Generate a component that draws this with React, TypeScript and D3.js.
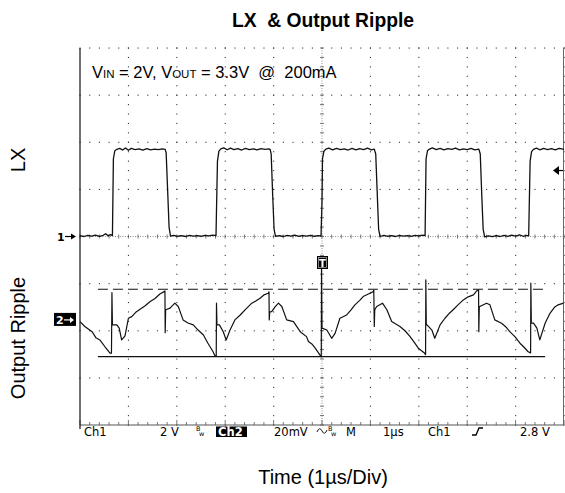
import React from "react";
import * as d3 from "d3";

// ---- Data (time in µs, trigger at 0) ----
const timeDomain: [number, number] = [-5, 5];
const hDivs = 10;
const vDivs = 8;

// LX (Ch1, 2 V/div) trace points [µs, V]
const lxTrace: [number, number][] = [
  [-5.0, 0.04], [-4.92, 0.0], [-4.84, 0.05], [-4.76, 0.02], [-4.68, 0.06], [-4.6, 0.01], [-4.52, 0.05], [-4.47, 0.12], [-4.42, 0.03], [-4.37, 0.08], [-4.33, 0.04],
  [-4.31, 3.3], [-4.28, 3.64], [-4.24, 3.7],
  [-4.18, 3.74], [-4.12, 3.67], [-4.06, 3.76], [-4.0, 3.66], [-3.94, 3.74], [-3.86, 3.69], [-3.78, 3.72], [-3.7, 3.67], [-3.62, 3.73], [-3.54, 3.68], [-3.46, 3.71], [-3.38, 3.69], [-3.3, 3.72], [-3.24, 3.7],
  [-3.22, 3.55], [-3.19, 2.0], [-3.16, 0.4], [-3.13, 0.02],
  [-3.06, 0.05], [-2.98, 0.01], [-2.9, 0.04], [-2.82, 0.0], [-2.74, 0.05], [-2.66, 0.02], [-2.58, 0.04], [-2.5, 0.01], [-2.42, 0.05], [-2.34, 0.03], [-2.26, 0.06], [-2.19, 0.04],
  [-2.16, 3.2], [-2.13, 3.62], [-2.09, 3.72],
  [-2.03, 3.76], [-1.96, 3.68], [-1.89, 3.75], [-1.82, 3.69], [-1.74, 3.73], [-1.66, 3.67], [-1.58, 3.74], [-1.5, 3.69], [-1.42, 3.72], [-1.34, 3.68], [-1.26, 3.73], [-1.18, 3.7], [-1.1, 3.72], [-1.07, 3.69],
  [-1.05, 3.5], [-1.02, 1.8], [-0.99, 0.3], [-0.96, 0.01],
  [-0.88, 0.04], [-0.8, 0.0], [-0.72, 0.05], [-0.64, 0.02], [-0.56, 0.06], [-0.48, 0.01], [-0.4, 0.04], [-0.32, 0.02], [-0.24, 0.05], [-0.16, 0.01], [-0.08, 0.04], [-0.02, 0.03],
  [0.0, 1.5], [0.01, 3.3], [0.04, 3.62], [0.08, 3.71],
  [0.14, 3.75], [0.22, 3.68], [0.3, 3.74], [0.38, 3.69], [0.46, 3.72], [0.54, 3.67], [0.62, 3.74], [0.7, 3.68], [0.78, 3.73], [0.86, 3.69], [0.94, 3.75], [1.02, 3.68], [1.08, 3.71],
  [1.11, 3.5], [1.14, 1.9], [1.17, 0.3], [1.2, 0.0],
  [1.28, 0.05], [1.36, 0.01], [1.44, 0.04], [1.52, 0.0], [1.6, 0.05], [1.68, 0.02], [1.76, 0.04], [1.84, 0.01], [1.92, 0.05], [2.0, 0.03], [2.08, 0.06], [2.13, 0.04],
  [2.15, 3.3], [2.18, 3.64], [2.22, 3.71],
  [2.28, 3.76], [2.36, 3.69], [2.44, 3.74], [2.52, 3.68], [2.6, 3.73], [2.68, 3.7], [2.76, 3.75], [2.84, 3.68], [2.92, 3.72], [3.0, 3.69], [3.08, 3.74], [3.16, 3.68], [3.24, 3.71],
  [3.27, 3.5], [3.3, 1.8], [3.33, 0.3], [3.36, -0.02],
  [3.44, 0.03], [3.52, -0.01], [3.6, 0.04], [3.68, 0.0], [3.76, 0.05], [3.84, 0.01], [3.92, 0.06], [4.0, 0.02], [4.08, 0.07], [4.16, 0.01], [4.22, 0.05], [4.27, 0.03],
  [4.3, 3.2], [4.33, 3.6], [4.37, 3.7],
  [4.43, 3.75], [4.5, 3.68], [4.58, 3.74], [4.66, 3.69], [4.74, 3.73], [4.82, 3.68], [4.9, 3.74], [5.0, 3.7],
];

// Output ripple (Ch2, 20 mV/div, AC) trace points [µs, mV]
const rippleTrace: [number, number][] = [
  [-5.0, -0.7], [-4.9, -2.8], [-4.75, -5.0], [-4.67, -7.6], [-4.59, -8.5], [-4.48, -11.5], [-4.38, -14.1], [-4.35, -14.1],
  [-4.34, 11.6], [-4.33, -2.1], [-4.24, -2.1], [-4.19, -3.5], [-4.14, -8.5], [-4.07, -6.8], [-4.0, 0.7], [-3.93, 1.4], [-3.84, 3.4], [-3.76, 4.5], [-3.66, 5.9], [-3.55, 7.8], [-3.45, 9.1], [-3.35, 11.0], [-3.26, 12.0], [-3.245, 12.3],
  [-3.24, -5.4], [-3.23, 4.3], [-3.14, 5.0], [-3.04, 7.1], [-2.97, 5.7], [-2.87, 0.0], [-2.77, -1.3], [-2.66, -2.1], [-2.56, -4.3], [-2.45, -6.4], [-2.36, -9.8], [-2.25, -13.5], [-2.21, -15.3], [-2.185, -15.3],
  [-2.18, 7.1], [-2.17, -2.1], [-2.12, -2.1], [-2.04, -5.0], [-1.98, -8.5], [-1.9, -4.3], [-1.8, 0.0], [-1.69, 2.1], [-1.57, 4.7], [-1.45, 7.1], [-1.36, 8.1], [-1.28, 9.2], [-1.2, 10.6], [-1.11, 11.3], [-1.095, 11.9],
  [-1.09, 0.0], [-1.08, 3.4], [-1.04, 3.5], [-0.97, 5.5], [-0.9, 7.1], [-0.83, 5.7], [-0.73, 0.0], [-0.59, -0.7], [-0.45, -5.0], [-0.32, -7.1], [-0.28, -9.2], [-0.21, -10.2], [-0.14, -12.0], [-0.03, -15.3], [-0.015, -15.7],
  [-0.01, 22.1], [0.0, -3.5], [0.1, -4.3], [0.2, -7.8], [0.27, -5.7], [0.37, 0.7], [0.51, 2.1], [0.6, 4.3], [0.68, 6.4], [0.79, 8.5], [0.85, 9.9], [0.99, 11.3], [1.06, 12.0], [1.07, 12.7],
  [1.08, -2.8], [1.09, 4.3], [1.13, 5.7], [1.25, 7.1], [1.34, 4.3], [1.44, -0.7], [1.61, -2.8], [1.72, -4.7], [1.82, -7.1], [1.9, -9.3], [1.99, -12.0], [2.11, -13.9], [2.14, -14.7],
  [2.145, 17.0], [2.155, -2.1], [2.17, -2.1], [2.27, -4.3], [2.33, -7.8], [2.44, -2.1], [2.54, 0.7], [2.62, 2.6], [2.71, 4.3], [2.81, 6.4], [2.92, 8.5], [3.02, 9.8], [3.13, 10.6], [3.2, 12.4], [3.235, 12.7],
  [3.24, -5.0], [3.25, 5.7], [3.26, 5.7], [3.4, 7.1], [3.47, 6.4], [3.57, 0.0], [3.71, -1.4], [3.8, -3.0], [3.88, -5.0], [3.99, -7.2], [4.09, -9.9], [4.17, -11.5], [4.26, -13.5], [4.31, -14.0],
  [4.315, 15.6], [4.325, -1.4], [4.37, -1.4], [4.44, -3.5], [4.5, -8.5], [4.61, -1.4], [4.71, 2.8], [4.81, 5.5], [4.88, 6.4], [4.99, 7.1],
];

// Cursors (mV) and their extent (µs)
const cursorHigh = 13.0;
const cursorLow = -15.6;
const cursorSpan: [number, number] = [-4.63, 4.61];

// Scope settings
const ch1VoltsPerDiv = 2;
const ch2MilliVoltsPerDiv = 20;
const ch2OffsetDivs = 1.77; // ch2 ground marker below centre
const triggerLevel = 2.8;

const title = "LX  & Output Ripple";
const xLabel = "Time (1\u00b5s/Div)";
const lxLabel = "LX";
const rippleLabel = "Output Ripple";

const W = 565;
const H = 493;
const X0 = 80, X1 = 564, Y0 = 48, Y1 = 425;

export default function App() {
  const x = d3.scaleLinear().domain(timeDomain).range([X0, X1]);
  const divH = (Y1 - Y0) / vDivs;
  const divW = (X1 - X0) / hDivs;
  const cy = (Y0 + Y1) / 2;
  const yLX = d3.scaleLinear().domain([0, ch1VoltsPerDiv]).range([cy, cy - divH]);
  const g2 = cy + ch2OffsetDivs * divH;
  const yR = d3.scaleLinear().domain([0, ch2MilliVoltsPerDiv]).range([g2, g2 - divH]);

  const lxLine = d3.line<[number, number]>().x((d) => x(d[0])).y((d) => yLX(d[1]));
  const rLine = d3.line<[number, number]>().x((d) => x(d[0])).y((d) => yR(d[1]));

  const cx = x(0);
  const dots: JSX.Element[] = [];
  for (let j = 0; j < vDivs; j++) {
    if (j === vDivs / 2) continue;
    const yy = Y0 + j * divH;
    for (let k = 0; k <= hDivs * 5; k++) {
      dots.push(<rect key={`h${j}-${k}`} x={X0 + k * (divW / 5) - 0.5} y={yy - 0.5} width={1.1} height={1.1} fill="#333" />);
    }
  }
  for (let i = 1; i <= hDivs; i++) {
    if (i === hDivs / 2) continue;
    const xx = X0 + i * divW;
    for (let m = 0; m <= vDivs * 5; m++) {
      dots.push(<rect key={`v${i}-${m}`} x={xx - 0.5} y={Y0 + m * (divH / 5) - 0.5} width={1.1} height={1.1} fill="#333" />);
    }
  }
  const ticks: JSX.Element[] = [];
  for (let k = 0; k <= hDivs * 5; k++) {
    const xx = X0 + k * (divW / 5);
    ticks.push(<line key={`ch${k}`} x1={xx} x2={xx} y1={cy - 2} y2={cy + 2} stroke="#555" strokeWidth={0.8} />);
    ticks.push(<line key={`bt${k}`} x1={xx} x2={xx} y1={Y1} y2={Y1 - (k % 5 === 0 ? 5 : 3)} stroke="#555" strokeWidth={0.8} />);
  }
  for (let m = 0; m <= vDivs * 5; m++) {
    const yy = Y0 + m * (divH / 5);
    ticks.push(<line key={`cv${m}`} x1={cx - 2} x2={cx + 2} y1={yy} y2={yy} stroke="#555" strokeWidth={0.8} />);
  }

  const font = "'Liberation Sans', Arial, sans-serif";
  const sfont = "'DejaVu Sans', sans-serif";
  const trigY = yLX(triggerLevel);

  return (
    <svg width={W} height={H} style={{ position: "absolute", left: 0, top: 0, background: "#fff" }}>
      <rect x={0} y={0} width={W} height={H} fill="#fff" />
      <text x={323} y={27} textAnchor="middle" fontFamily={font} fontWeight="bold" fontSize={19.3} style={{ whiteSpace: "pre" }}>{title}</text>

      {dots}
      <line x1={X0} x2={X1} y1={cy} y2={cy} stroke="#777" strokeWidth={0.8} strokeDasharray="1 1.5" />
      <line x1={cx} x2={cx} y1={Y0} y2={Y1} stroke="#777" strokeWidth={0.8} strokeDasharray="1 1.5" />
      {ticks}
      <line x1={X0} x2={X1} y1={Y1} y2={Y1} stroke="#555" strokeWidth={1} />
      <line x1={X0} x2={X0} y1={Y0} y2={Y1 + 4} stroke="#111" strokeWidth={1.2} />
      <line x1={X1 - 0.5} x2={X1 - 0.5} y1={Y0} y2={Y1} stroke="#666" strokeWidth={1} />

      <text x={92} y={77.5} fontFamily={font} fontSize={16.5} style={{ whiteSpace: "pre" }}>
        V<tspan fontSize={11.5}>IN</tspan> = 2V, V<tspan fontSize={11.5}>OUT</tspan> = 3.3V  @  200mA
      </text>

      {/* cursors */}
      <line x1={x(cursorSpan[0])} x2={x(cursorSpan[1])} y1={yR(cursorHigh)} y2={yR(cursorHigh)} stroke="#111" strokeWidth={1.1} strokeDasharray="10 5" />
      <line x1={x(cursorSpan[0])} x2={x(cursorSpan[1])} y1={yR(cursorLow)} y2={yR(cursorLow)} stroke="#111" strokeWidth={1.1} />

      <path d={lxLine(lxTrace) || ""} fill="none" stroke="#111" strokeWidth={1.3} strokeLinejoin="round" />
      <path d={rLine(rippleTrace) || ""} fill="none" stroke="#111" strokeWidth={1.2} strokeLinejoin="round" />

      {/* ch1 marker */}
      <text x={57} y={241} fontFamily={sfont} fontSize={11} fontWeight="bold">1</text>
      <path d={`M65,${cy} L73,${cy}`} stroke="#000" strokeWidth={1.2} />
      <path d={`M76,${cy} L71,${cy - 3} L71,${cy + 3} Z`} fill="#000" />
      {/* ch2 marker */}
      <rect x={54} y={g2 - 7} width={22} height={13} fill="#000" />
      <text x={56} y={g2 + 4} fontFamily={sfont} fontSize={11} fontWeight="bold" fill="#fff">2</text>
      <path d={`M64,${g2} L71,${g2}`} stroke="#fff" strokeWidth={1.2} />
      <path d={`M74,${g2} L70,${g2 - 3} L70,${g2 + 3} Z`} fill="#fff" />
      {/* trigger T */}
      <rect x={cx - 5} y={256} width={11} height={13} fill="#000" />
      <rect x={cx - 3.5} y={257.5} width={8} height={10} fill="none" stroke="#bbb" strokeWidth={0.7} />
      <text x={cx + 0.5} y={266.5} textAnchor="middle" fontFamily={sfont} fontSize={10} fontWeight="bold" fill="#fff">T</text>
      {/* trigger level */}
      <path d={`M553,${trigY} L559,${trigY - 4.5} L559,${trigY + 4.5} Z`} fill="#000" />
      <line x1={558} x2={563} y1={trigY} y2={trigY} stroke="#000" strokeWidth={1.2} />

      {/* status bar */}
      <g fontFamily={sfont} fontSize={11.5} fill="#000">
        <text x={84} y={436}>Ch1</text>
        <text x={160} y={436} style={{ whiteSpace: "pre" }}>2 V</text>
        <text x={196} y={431} fontSize={6.5}>B</text>
        <text x={199} y={436} fontSize={6.5}>w</text>
        <rect x={216} y={426.5} width={31} height={10.5} fill="#000" />
        <text x={218} y={436} fill="#fff" fontWeight="bold">Ch2</text>
        <text x={274} y={436}>20mV</text>
        <path d="M317,432 Q319.5,426 322,431 Q324.5,436 327,430" fill="none" stroke="#000" strokeWidth={0.9} />
        <text x={328} y={431} fontSize={6.5}>B</text>
        <text x={331} y={436} fontSize={6.5}>w</text>
        <text x={346} y={436}>M</text>
        <text x={383} y={436}>1µs</text>
        <text x={428} y={436}>Ch1</text>
        <path d="M472,435 L476,435 L479,428 L483,428" fill="none" stroke="#000" strokeWidth={1.3} />
        <text x={520} y={436} style={{ whiteSpace: "pre" }}>2.8 V</text>
      </g>

      <text transform="translate(25,160) rotate(-90)" textAnchor="middle" fontFamily={font} fontSize={20}>{lxLabel}</text>
      <text transform="translate(25,338) rotate(-90)" textAnchor="middle" fontFamily={font} fontSize={20}>{rippleLabel}</text>
      <text x={323} y={484} textAnchor="middle" fontFamily={font} fontSize={20}>{xLabel}</text>
    </svg>
  );
}
